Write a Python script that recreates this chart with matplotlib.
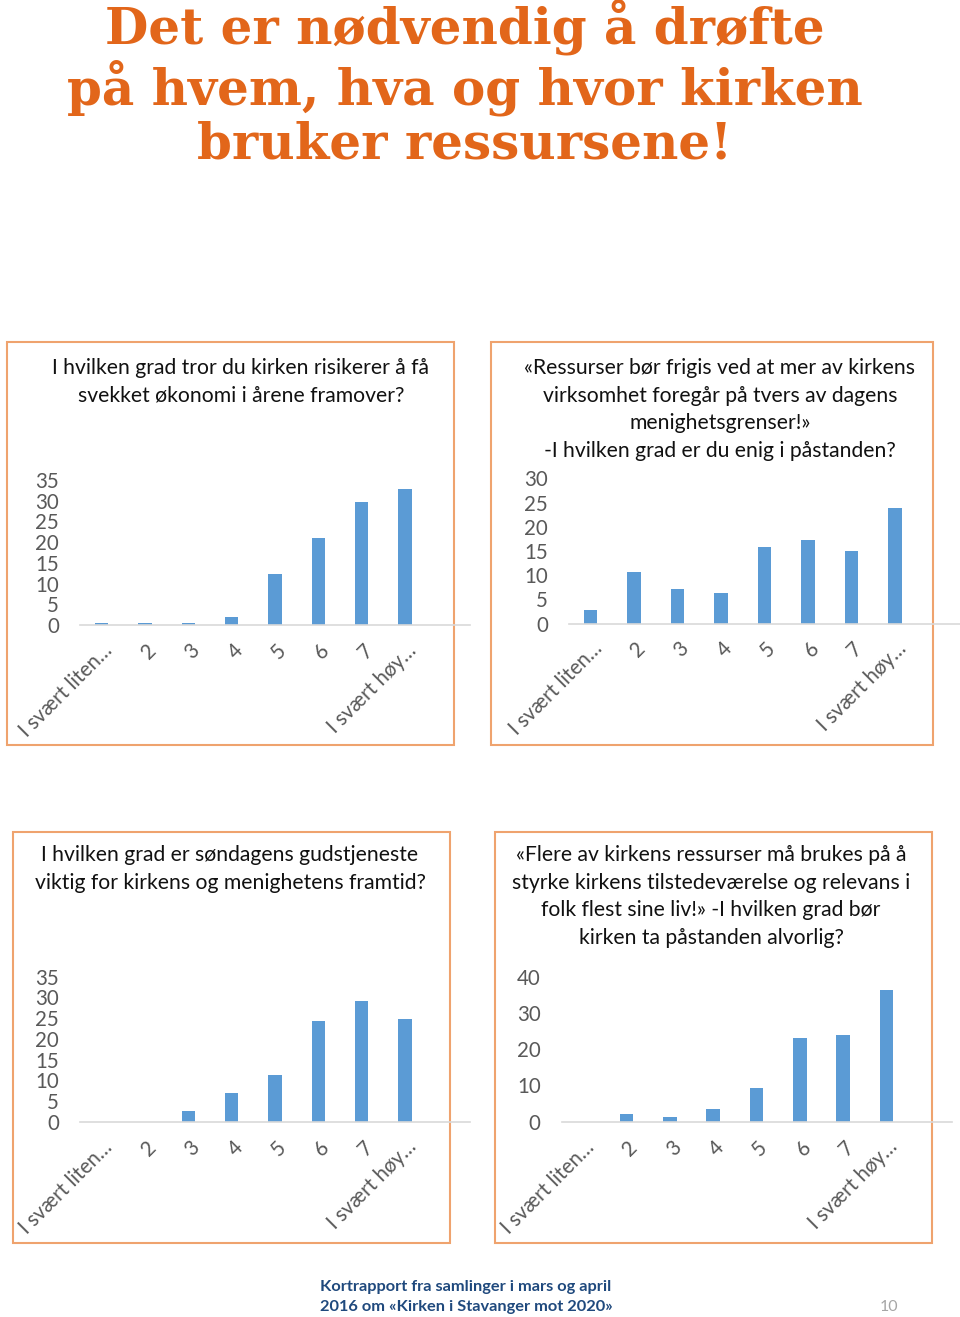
import matplotlib.pyplot as plt
from matplotlib.patches import Rectangle
from matplotlib.transforms import ScaledTranslation

W, H = 960, 1317
plt.rcParams['font.family'] = ['Lato', 'DejaVu Sans']

categories = ['I svært liten…', '2', '3', '4', '5', '6', '7', 'I svært høy…']

title1 = 'I hvilken grad tror du kirken risikerer å få\nsvekket økonomi i årene framover?'
values1 = [0.5, 0.5, 0.5, 2.0, 12.2, 21.0, 29.8, 32.8]
ticks1 = [0, 5, 10, 15, 20, 25, 30, 35]

title2 = ('«Ressurser bør frigis ved at mer av kirkens\nvirksomhet foregår på tvers av dagens\n'
          'menighetsgrenser!»\n-I hvilken grad er du enig i påstanden?')
values2 = [2.8, 10.7, 7.1, 6.3, 15.8, 17.2, 15.1, 23.8]
ticks2 = [0, 5, 10, 15, 20, 25, 30]

title3 = 'I hvilken grad er søndagens gudstjeneste\nviktig for kirkens og menighetens framtid?'
values3 = [0, 0, 2.7, 7.0, 11.3, 24.2, 29.2, 24.9]
ticks3 = [0, 5, 10, 15, 20, 25, 30, 35]

title4 = ('«Flere av kirkens ressurser må brukes på å\nstyrke kirkens tilstedeværelse og relevans i\n'
          'folk flest sine liv!» -I hvilken grad bør\nkirken ta påstanden alvorlig?')
values4 = [0, 2.0, 1.3, 3.6, 9.4, 23.2, 23.9, 36.4]
ticks4 = [0, 10, 20, 30, 40]

bar_color = '#5B9BD5'
gray = '#595959'
box_color = '#EFA36E'

fig = plt.figure(figsize=(W / 100, H / 100), dpi=100)

fig.text(465 / W, 1 - 84 / H,
         'Det er nødvendig å drøfte\npå hvem, hva og hvor kirken\nbruker ressursene!',
         ha='center', va='center', fontsize=36, fontweight='bold', color='#E2661A',
         family='DejaVu Serif', linespacing=1.1)


def panel(box, title, title_xy, axes_px, values, ticks):
    bx0, by0, bx1, by1 = box
    fig.patches.append(Rectangle((bx0 / W, 1 - by1 / H), (bx1 - bx0) / W, (by1 - by0) / H,
                                 transform=fig.transFigure, fill=False,
                                 edgecolor=box_color, lw=1.5, zorder=-1))
    fig.text(title_xy[0] / W, 1 - title_xy[1] / H, title, ha='center', va='top',
             fontsize=15.2, color='#111111', linespacing=1.48)
    left, top, right, bottom = axes_px
    ax = fig.add_axes([left / W, 1 - bottom / H, (right - left) / W, (bottom - top) / H])
    ax.patch.set_visible(False)
    x = list(range(len(categories)))
    ax.bar(x, values, width=0.31, color=bar_color, zorder=2)
    ax.set_xlim(-0.5, 8.5)
    ax.set_ylim(0, ticks[-1])
    ax.set_yticks(ticks)
    ax.set_xticks(x)
    ax.set_xticklabels(categories, rotation=45, ha='right', va='center',
                       rotation_mode='anchor')
    ax.tick_params(axis='both', length=0, labelsize=14.8, labelcolor=gray)
    ax.tick_params(axis='y', pad=15)
    ax.tick_params(axis='x', pad=16)
    for lab in ax.get_xticklabels():
        lab.set_transform(lab.get_transform() + ScaledTranslation(8 / 100, 0, fig.dpi_scale_trans))
    for s in ['top', 'right', 'left']:
        ax.spines[s].set_visible(False)
    ax.spines['bottom'].set_color('#D9D9D9')
    ax.spines['bottom'].set_linewidth(1.2)
    return ax


panel((7, 342, 454, 745), title1, (241, 358), (80, 480, 470, 625), values1, ticks1)
panel((491, 342, 933, 745), title2, (720, 358), (569, 478.5, 960, 623.5), values2, ticks2)
panel((13, 832, 450, 1243), title3, (230, 845), (80, 976.7, 470, 1121.7), values3, ticks3)
panel((495, 832, 932, 1243), title4, (711, 845), (561.5, 976.7, 951.5, 1121.7), values4, ticks4)

fig.text(466 / W, 1 - 1297 / H,
         'Kortrapport fra samlinger i mars og april\n2016 om «Kirken i Stavanger mot 2020»',
         ha='center', va='center', fontsize=11.8, fontweight='bold', color='#1F497D',
         linespacing=1.55)
fig.text(889 / W, 1 - 1307 / H, '10', ha='center', va='center', fontsize=11.5, color='#A6A6A6')

fig.savefig('out.png', dpi=100)
